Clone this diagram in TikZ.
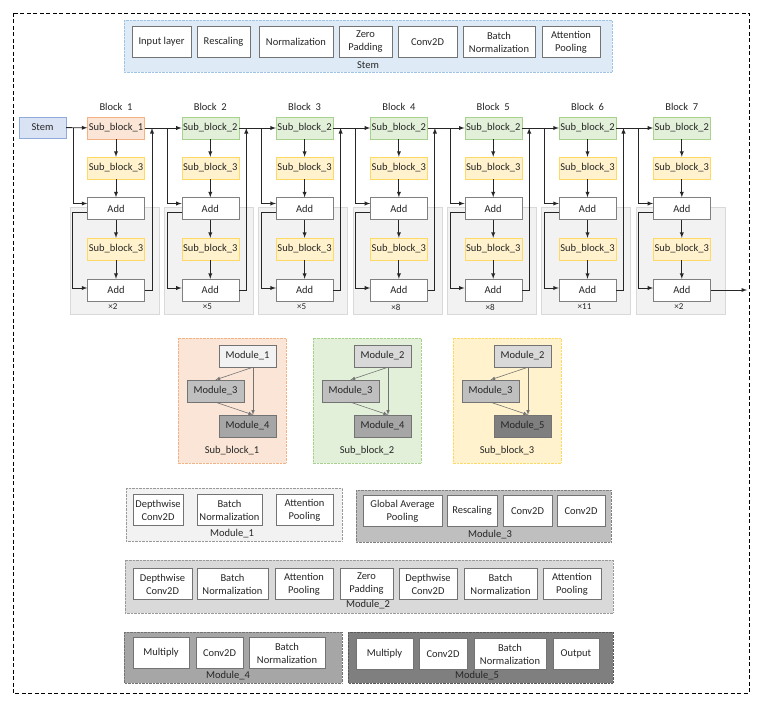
\documentclass[tikz,border=0pt]{standalone}
\usepackage{fontspec}
\setmainfont{Carlito}

\definecolor{stemfill}{HTML}{DAE3F3}
\definecolor{stemdraw}{HTML}{8FAADC}
\definecolor{panelblue}{HTML}{DEEBF7}
\definecolor{panelbluedraw}{HTML}{9DC3E6}
\definecolor{orfill}{HTML}{FBE5D6}
\definecolor{ordraw}{HTML}{F4B183}
\definecolor{grfill}{HTML}{E2F0D9}
\definecolor{grdraw}{HTML}{A9D18E}
\definecolor{yefill}{HTML}{FFF2CC}
\definecolor{yedraw}{HTML}{FFD966}
\definecolor{mod1}{HTML}{F2F2F2}
\definecolor{mod2}{HTML}{D9D9D9}
\definecolor{mod3}{HTML}{BFBFBF}
\definecolor{mod4}{HTML}{A6A6A6}
\definecolor{mod5}{HTML}{7F7F7F}
\definecolor{ink}{HTML}{262626}

\tikzset{
  blockbox/.style={draw, minimum width=57pt, minimum height=22pt, inner sep=1pt, text=ink},
  sub3/.style={blockbox, fill=yefill, draw=yedraw},
  addbox/.style={blockbox, fill=white, draw=black!50},
  stembox/.style={blockbox, minimum width=47pt, minimum height=21pt, fill=stemfill, draw=stemdraw},
  rep/.style={draw=black!15, fill=black!5, minimum width=89pt, minimum height=107pt},
  modbox/.style={blockbox, draw=black!55},
  layerbox/.style={draw=black!55, fill=white, align=center, minimum height=31pt, inner sep=1pt, text=ink},
  panel/.style={densely dotted, draw=black!40},
  flow/.style={-latex, draw=ink, line width=0.9pt},
  modarrow/.style={-latex, draw=black!55, line width=0.6pt},
  lbl/.style={text=ink, inner sep=0pt},
}

\begin{document}
\begin{tikzpicture}[x=1pt, y=-1pt, font=\fontsize{10.5}{13}\selectfont]
  \useasboundingbox (0,0) rectangle (762,706);
  % outer frame
  \draw[line width=0.9pt, dash pattern=on 4pt off 2.5pt] (13,13) rectangle (749,693);

  % stem layers
  \draw[panel, draw=panelbluedraw, fill=panelblue] (124,20) rectangle (612,72);
  \foreach \x/\w/\t [count=\k] in {161.5/59/Input layer, 223.5/53/Rescaling, 296/74/Normalization,
      365.5/53/Zero\\Padding, 427.5/59/Conv2D, 499/72/Batch\\Normalization, 571/58/Attention\\Pooling}
    \node[layerbox, minimum width=\w] (st\k) at (\x,42) {\t};
  \node[lbl] (stemlbl) at (368,65) {Stem};

  % blocks
  \node[stembox] (stem) at (42.5,127.5) {Stem};
  \foreach \i/\c/\s/\n/\sf/\sd in {1/116/1/2/orfill/ordraw, 2/210.3/2/5/grfill/grdraw,
      3/304.6/2/5/grfill/grdraw, 4/398.9/2/8/grfill/grdraw, 5/493.2/2/8/grfill/grdraw,
      6/587.5/2/11/grfill/grdraw, 7/681.8/2/2/grfill/grdraw} {
    \node[rep] (rep\i) at (\c-1.5,260.5) {};
    \node[lbl, font=\fontsize{9}{10}\selectfont] (times\i) at (\c-3,307) {×\n};
    \node[lbl] (title\i) at (\c,107) {Block~~\i};
    \node[blockbox, fill=\sf, draw=\sd] (top\i) at (\c,128) {Sub\_block\_\s};
    \node[sub3] (sa\i) at (\c,168) {Sub\_block\_3};
    \node[addbox] (adda\i) at (\c,208.5) {Add};
    \node[sub3] (sb\i) at (\c,249) {Sub\_block\_3};
    \node[addbox] (addb\i) at (\c,290) {Add};
    \coordinate (br\i) at (\c-43,128);
    \draw[flow] (top\i) -- (sa\i);
    \draw[flow] (sa\i) -- (adda\i);
    \draw[flow] (adda\i) -- (sb\i);
    \draw[flow] (sb\i) -- (addb\i);
    \draw[flow] (br\i) |- ([yshift=5pt]adda\i.west);
    \draw[flow] ([yshift=-4pt]adda\i.west) -- ++(-14.5,0) |- ([yshift=2pt]addb\i.west);
    \ifnum\i<7
      \coordinate (up\i) at (\c+36,128);
      \draw[flow] (addb\i.east) -| (up\i);
    \fi
  }
  \draw[flow] (stem) -- (top1);
  \foreach \i [remember=\i as \j (initially 1)] in {2,...,7}
    \draw[flow] (top\j) -- (top\i);
  \coordinate (out) at (747,290);
  \draw[flow] (addb7) -- (out);

  % sub blocks
  \foreach \L/\k/\pf/\pd/\ta/\tb in {178/1/orfill/ordraw/1/4, 313/2/grfill/grdraw/2/4, 453/3/yefill/yedraw/2/5} {
    \draw[panel, draw=\pd, fill=\pf] (\L,338) rectangle (\L+108,463);
    \node[modbox, fill=mod\ta] (mt\k) at (\L+69.5,356) {Module\_\ta};
    \node[modbox, fill=mod3] (mm\k) at (\L+37.5,391) {Module\_3};
    \node[modbox, fill=mod\tb] (mb\k) at (\L+69.5,426) {Module\_\tb};
    \node[lbl] (sblbl\k) at (\L+54,451) {Sub\_block\_\k};
    \draw[modarrow] ([xshift=5.5pt]mt\k.south) -- (mm\k.north);
    \draw[modarrow] ([xshift=5.5pt]mt\k.south) -- ([xshift=5.5pt]mb\k.north);
    \draw[modarrow] (mm\k.south) -- ([xshift=5.5pt]mb\k.north);
  }

  % modules
  \draw[panel, fill=mod1] (126,488) rectangle (342,541);
  \foreach \x/\w/\t [count=\k] in {158/50/Depthwise\\Conv2D, 229.5/65/Batch\\Normalization, 304.5/57/Attention\\Pooling}
    \node[layerbox, minimum width=\w] (ma\k) at (\x,510) {\t};
  \node[lbl] (malbl) at (232,534) {Module\_1};

  \draw[panel, draw=black!50, fill=mod3] (356,490) rectangle (611,542);
  \foreach \x/\w/\t [count=\k] in {402.5/79/Global Average\\Pooling, 472/50/Rescaling, 527.5/49/Conv2D, 581/48/Conv2D}
    \node[layerbox, minimum width=\w] (mc\k) at (\x,511) {\t};
  \node[lbl] (mclbl) at (490,535) {Module\_3};

  \draw[panel, fill=mod2] (125,560) rectangle (613,613);
  \foreach \x/\w/\t [count=\k] in {162.5/59/Depthwise\\Conv2D, 232.5/71/Batch\\Normalization, 304/58/Attention\\Pooling,
      366.5/53/Zero\\Padding, 428/58/Depthwise\\Conv2D, 500.5/73/Batch\\Normalization, 572/58/Attention\\Pooling}
    \node[layerbox, minimum width=\w] (mb\k) at (\x,584) {\t};
  \node[lbl] (mblbl) at (368,605) {Module\_2};

  \draw[panel, draw=black!55, fill=mod4] (124,632) rectangle (342,683);
  \foreach \x/\w/\t [count=\k] in {161/56/Multiply, 219.5/47/Conv2D, 287/76/Batch\\Normalization}
    \node[layerbox, minimum width=\w] (md\k) at (\x,653) {\t};
  \node[lbl] (mdlbl) at (228,676) {Module\_4};

  \draw[panel, draw=black!65, fill=mod5] (348,632) rectangle (613,683);
  \foreach \x/\w/\t [count=\k] in {384.5/57/Multiply, 443/48/Conv2D, 510/72/Batch\\Normalization, 576/46/Output}
    \node[layerbox, minimum width=\w] (me\k) at (\x,654) {\t};
  \node[lbl] (melbl) at (477,676) {Module\_5};
\end{tikzpicture}
\end{document}
